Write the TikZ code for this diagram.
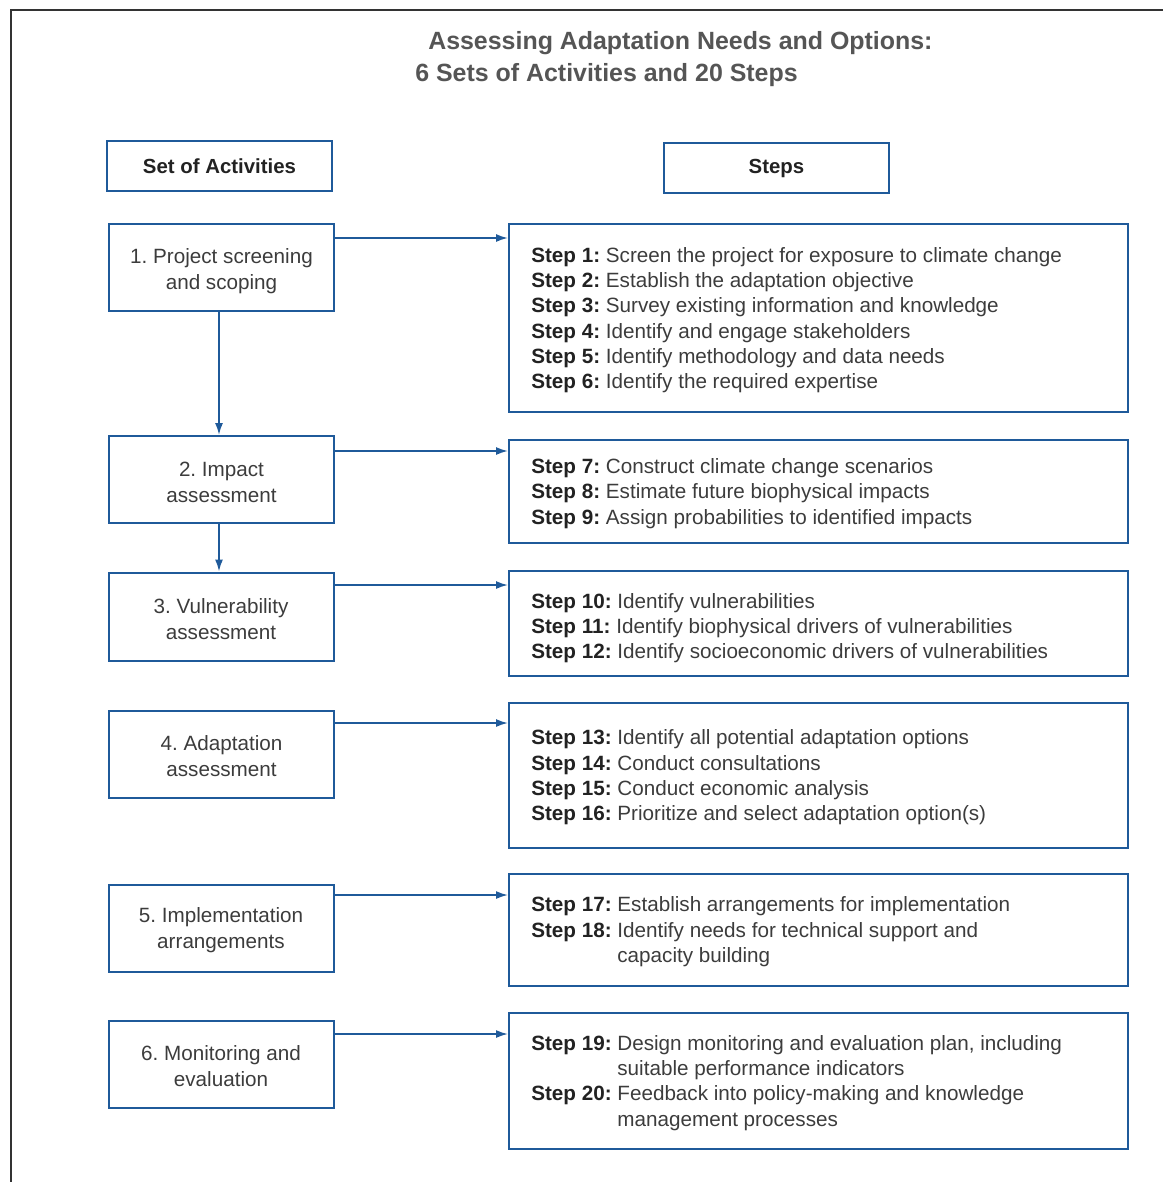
\documentclass[tikz,border=0pt]{standalone}
\usepackage{fontspec}
\setmainfont{Liberation Sans}
\usetikzlibrary{arrows.meta}
\definecolor{boxblue}{HTML}{1F5A9A}
\definecolor{txtgray}{HTML}{3C3C3C}
\definecolor{lblgray}{HTML}{222222}
\definecolor{ttlgray}{HTML}{555555}
\newcommand{\stp}[1]{\textbf{\color{lblgray}Step #1:}}
\tikzset{
  frame/.style={line width=1.65pt, black!80},
  actbox/.style={draw=boxblue, line width=1.5pt, minimum width=168.75pt, minimum height=65.25pt, inner sep=0pt},
  acttext/.style={align=center, inner sep=0pt, text=txtgray, font=\frenchspacing\fontsize{15.5}{19.5}\selectfont},
  headbox/.style={draw=boxblue, line width=1.5pt, minimum width=168.75pt, minimum height=37.5pt, inner sep=0pt,
     font=\bfseries\fontsize{15.3}{17}\selectfont, text=lblgray},
  stepbox/.style={draw=boxblue, line width=1.5pt, minimum width=464.25pt, inner sep=0pt},
  steptext/.style={anchor=west, align=left, inner sep=0pt, text=txtgray, font=\frenchspacing\fontsize{15.5}{19}\selectfont},
  arr/.style={draw=boxblue, line width=1.3pt, -{Latex[length=9pt,width=6pt]}},
  ttl/.style={anchor=west, inner sep=0pt, text=ttlgray, font=\bfseries\fontsize{18.7}{20}\selectfont}
}
\begin{document}
\begin{tikzpicture}[x=0.75pt,y=-0.75pt]
\useasboundingbox (0,0) rectangle (1163,1182);
\draw[frame] (11,1200) -- (11,10) -- (1180,10);

\node[ttl] (title1) at (428,43) {Assessing Adaptation Needs and Options:};
\node[ttl] (title2) at (415,75) {6 Sets of Activities and 20 Steps};

\node[headbox] (h1) at (219.5,166) {Set of Activities};
\node[headbox] (h2) at (776.5,168) {Steps};

\node[actbox] (l1) at (221.5,267.5) {};
\node[actbox] (l2) at (221.5,479.5) {};
\node[actbox, minimum height=66pt] (l3) at (221,616.5) {};
\node[actbox] (l4) at (221.5,754.5) {};
\node[actbox] (l5) at (221,928.5) {};
\node[actbox] (l6) at (221,1064.5) {};

\node[acttext] (lt1) at ([yshift=-3pt]l1.center) {1. Project screening\\and scoping};
\node[acttext] (lt2) at ([yshift=-2.5pt]l2.center) {2. Impact\\assessment};
\node[acttext] (lt3) at ([yshift=-2pt]l3.center) {3. Vulnerability\\assessment};
\node[acttext] (lt4) at ([yshift=-1.5pt]l4.center) {4. Adaptation\\assessment};
\node[acttext] (lt5) at ([yshift=-1pt]l5.center) {5. Implementation\\arrangements};
\node[acttext] (lt6) at ([yshift=-1pt]l6.center) {6. Monitoring and\\evaluation};

\node[stepbox, minimum height=141pt] (r1) at (818.5,318) {};
\node[stepbox, minimum height=77.25pt] (r2) at (818.5,491.5) {};
\node[stepbox, minimum height=78.75pt] (r3) at (818.5,623.5) {};
\node[stepbox, minimum height=108.75pt] (r4) at (818.5,775.5) {};
\node[stepbox, minimum height=84pt] (r5) at (818.5,930) {};
\node[stepbox, minimum height=102pt] (r6) at (818.5,1081) {};

\node[steptext] (s1) at ([xshift=17.25pt,yshift=-1.5pt]r1.west) {%
\stp{1} Screen the project for exposure to climate change\\
\stp{2} Establish the adaptation objective\\
\stp{3} Survey existing information and knowledge\\
\stp{4} Identify and engage stakeholders\\
\stp{5} Identify methodology and data needs\\
\stp{6} Identify the required expertise};
\node[steptext] (s2) at ([xshift=17.25pt,yshift=-1.5pt]r2.west) {%
\stp{7} Construct climate change scenarios\\
\stp{8} Estimate future biophysical impacts\\
\stp{9} Assign probabilities to identified impacts};
\node[steptext] (s3) at ([xshift=17.25pt,yshift=-3.5pt]r3.west) {%
\stp{10} Identify vulnerabilities\\
\stp{11} Identify biophysical drivers of vulnerabilities\\
\stp{12} Identify socioeconomic drivers of vulnerabilities};
\node[steptext] (s4) at ([xshift=17.25pt,yshift=-1.5pt]r4.west) {%
\stp{13} Identify all potential adaptation options\\
\stp{14} Conduct consultations\\
\stp{15} Conduct economic analysis\\
\stp{16} Prioritize and select adaptation option(s)};
\node[steptext] (s5) at ([xshift=17.25pt,yshift=-1.5pt]r5.west) {%
\begin{tabular}{@{}l@{ }l@{}}
\stp{17} & Establish arrangements for implementation\\
\stp{18} & Identify needs for technical support and\\
 & capacity building
\end{tabular}};
\node[steptext] (s6) at ([xshift=17.25pt,yshift=-1.5pt]r6.west) {%
\begin{tabular}{@{}l@{ }l@{}}
\stp{19} & Design monitoring and evaluation plan, including\\
 & suitable performance indicators\\
\stp{20} & Feedback into policy-making and knowledge\\
 & management processes
\end{tabular}};

\coordinate (a1) at (0,238);
\coordinate (a2) at (0,451);
\coordinate (a3) at (0,585);
\coordinate (a4) at (0,723);
\coordinate (a5) at (0,895);
\coordinate (a6) at (0,1034);
\coordinate (vx) at (219,0);

\draw[arr] (l1.east |- a1) -- (r1.west |- a1);
\draw[arr] (l2.east |- a2) -- (r2.west |- a2);
\draw[arr] (l3.east |- a3) -- (r3.west |- a3);
\draw[arr] (l4.east |- a4) -- (r4.west |- a4);
\draw[arr] (l5.east |- a5) -- (r5.west |- a5);
\draw[arr] (l6.east |- a6) -- (r6.west |- a6);

\draw[arr] (l1.south -| vx) -- (l2.north -| vx);
\draw[arr] (l2.south -| vx) -- (l3.north -| vx);
\end{tikzpicture}
\end{document}
